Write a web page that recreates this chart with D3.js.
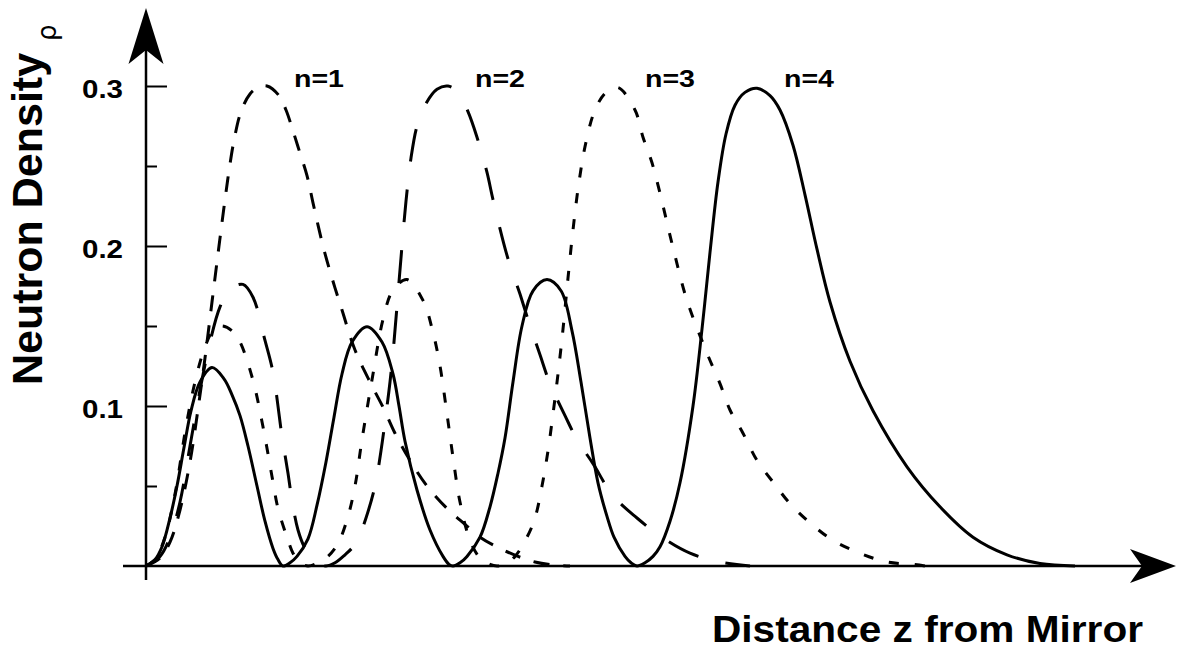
<!DOCTYPE html>
<html>
<head>
<meta charset="utf-8">
<script src="https://cdn.jsdelivr.net/npm/d3@7"></script>
<style>
    body { margin: 0; background: #fff; }
    svg { display: block; }
</style>
</head>
<body>
<svg id="chart" width="1188" height="648"></svg>
<script>
// Values (z in arbitrary units, rho = neutron density)
const zN1 = [0, .14, .24, .34, .44, .52, .59, .66, .73, .79, .83, .88, .95, 1.04, 1.12, 1.21, 1.33, 1.40, 1.46, 1.52, 1.61, 1.67, 1.77, 1.86, 1.96, 2.09, 2.24, 2.38, 2.49, 2.64, 2.81, 3.01, 3.19, 3.34, 3.54, 3.72, 3.89, 4.09, 4.24];
const rhoN1 = [0, .005, .015, .035, .065, .098, .13, .165, .2, .229, .247, .266, .284, .295, .299, .3, .294, .285, .274, .262, .244, .227, .2, .18, .16, .135, .115, .098, .083, .066, .05, .036, .026, .018, .011, .006, .0025, .0005, 0];

const zN2 = [0, .14, .24, .34, .44, .54, .64, .74, .84, .97, 1.07, 1.19, 1.27, 1.36, 1.42, 1.46, 1.52, 1.59, 1.67, 1.74, 1.80, 1.89, 1.99, 2.07, 2.14, 2.20, 2.29, 2.35, 2.40, 2.44, 2.48, 2.52, 2.56, 2.60, 2.65, 2.71, 2.79, 2.91, 3.02, 3.12, 3.22, 3.31, 3.41, 3.47, 3.62, 3.74, 3.82, 3.94, 4.04, 4.19, 4.31, 4.47, 4.67, 4.91, 5.17, 5.44, 5.74, 6.04];
const rhoN2 = [0, .006, .018, .04, .075, .11, .14, .162, .173, .176, .168, .141, .121, .081, .058, .041, .0225, .011, .004, .001, 0, .002, .007, .012, .02, .03, .05, .072, .095, .115, .14, .17, .2, .228, .255, .275, .288, .298, .3, .296, .284, .268, .246, .229, .192, .17, .154, .132, .114, .094, .079, .064, .044, .03, .0175, .008, .0025, 0];

const zN3 = [0, .09, .19, .29, .40, .49, .59, .68, .76, .86, .94, 1.07, 1.17, 1.26, 1.32, 1.41, 1.47, 1.54, 1.62, 1.72, 1.82, 1.92, 2.02, 2.09, 2.16, 2.27, 2.37, 2.47, 2.61, 2.77, 2.87, 2.94, 3.01, 3.07, 3.14, 3.24, 3.34, 3.44, 3.51, 3.59, 3.69, 3.81, 3.89, 3.96, 4.02, 4.07, 4.12, 4.17, 4.22, 4.27, 4.33, 4.40, 4.49, 4.60, 4.72, 4.89, 4.97, 5.06, 5.14, 5.27, 5.41, 5.61, 5.74, 5.84, 5.97, 6.11, 6.27, 6.44, 6.64, 6.87, 7.14, 7.41, 7.67, 7.79];
const rhoN3 = [0, .004, .018, .045, .087, .115, .137, .148, .15, .147, .14, .116, .087, .056, .036, .018, .008, .002, 0, .002, .006, .014, .031, .05, .079, .12, .154, .1725, .179, .166, .146, .125, .095, .068, .04, .016, .005, .001, 0, .001, .006, .018, .03, .05, .072, .095, .12, .148, .18, .21, .24, .265, .285, .296, .299, .285, .268, .252, .233, .199, .166, .133, .114, .0975, .083, .066, .0525, .039, .027, .016, .008, .0025, .001, 0];

const zN4 = [0, .09, .16, .24, .31, .38, .45, .54, .66, .78, .86, .94, 1.02, 1.11, 1.19, 1.27, 1.32, 1.37,
    1.44, 1.51, 1.62, 1.71, 1.80, 1.88, 1.96, 2.06, 2.21, 2.36, 2.47, 2.53, 2.59, 2.71, 2.84, 2.97, 3.03, 3.07,
    3.14, 3.21, 3.34, 3.44, 3.52, 3.59, 3.67, 3.76, 3.87, 4.01, 4.15, 4.26, 4.35, 4.44, 4.52, 4.61, 4.68, 4.79, 4.85, 4.91,
    4.99, 5.07, 5.14, 5.24, 5.34, 5.47, 5.56, 5.64, 5.72, 5.80, 5.89, 5.99, 6.11, 6.24, 6.34, 6.47, 6.59, 6.71, 6.84, 7.04, 7.27, 7.61, 7.94, 8.27, 8.61, 8.94, 9.29];
const rhoN4 = [0, .004, .012, .03, .05, .074, .097, .115, .124, .117, .107, .094, .075, .05, .028, .011, .004, 0,
    .002, .006, .017, .038, .065, .093, .12, .14, .1496, .14, .12, .1, .078, .0475, .0225, .006, .001, 0,
    .002, .006, .018, .037, .058, .08, .115, .15, .172, .179, .172, .147, .115, .08, .052, .031, .018, .006, .002, 0,
    .002, .006, .012, .028, .052, .1, .148, .196, .24, .27, .288, .296, .2986, .294, .285, .263, .232, .198, .165, .128, .097, .062, .037, .018, .007, .0015, 0];

const stateNames = ["n=1", "n=2", "n=3", "n=4"];
const yMajorTicks = [0.1, 0.2, 0.3];
const yMinorTicks = [0.05, 0.15, 0.25];
const xTitle = "Distance z from Mirror";
const yTitle = "Neutron Density";

// line styles for each state (n=4 is solid)
const dashes = ["16,14", "33,28", "10,16", null];

const series = [
    { name: stateNames[0], z: zN1, rho: rhoN1 },
    { name: stateNames[1], z: zN2, rho: rhoN2 },
    { name: stateNames[2], z: zN3, rho: rhoN3 },
    { name: stateNames[3], z: zN4, rho: rhoN4 },
].map(s => ({ ...s, points: s.z.map((z, i) => [z, s.rho[i]]) }));

const svg = d3.select("#chart");
const font = "'Liberation Sans', Arial, Helvetica, sans-serif";

svg.append("rect").attr("width", 1188).attr("height", 648).attr("fill", "#fff");

// Scales
const xScale = d3.scaleLinear().domain([0, 10.3]).range([146, 1176]);
const yScale = d3.scaleLinear().domain([0, 0.35]).range([566, 6]);

const x0 = xScale(0);
const y0 = yScale(0);

// Curves
const line = d3.line()
    .x(d => xScale(d[0]))
    .y(d => yScale(d[1]))
    .curve(d3.curveCatmullRom.alpha(0.5));

svg.append("g")
    .selectAll("path")
    .data(series)
    .join("path")
    .attr("d", d => line(d.points))
    .attr("fill", "none")
    .attr("stroke", "#000")
    .attr("stroke-width", 3)
    .attr("stroke-linecap", "butt")
    .attr("stroke-dasharray", (d, i) => dashes[i]);

// State labels, placed just right of each curve's highest point
svg.append("g")
    .selectAll("text")
    .data(series)
    .join("text")
    .attr("x", d => {
        const top = d.points[d3.maxIndex(d.points, p => p[1])];
        return xScale(top[0]) + 27;
    })
    .attr("y", yScale(0.3) + 1)
    .attr("font-family", font)
    .attr("font-weight", "bold")
    .attr("font-size", 24)
    .attr("textLength", 50)
    .attr("lengthAdjust", "spacingAndGlyphs")
    .text(d => d.name);

// Y axis ticks (ticks point into the plot, labels on the left)
const yAxis = d3.axisLeft(yScale)
    .tickValues(yMajorTicks)
    .tickSizeInner(-21)
    .tickSizeOuter(0)
    .tickPadding(23)
    .tickFormat(d3.format(".1f"));

const yAxisG = svg.append("g")
    .attr("transform", `translate(${x0},0)`)
    .call(yAxis);
yAxisG.select(".domain").remove();
yAxisG.selectAll("line").attr("stroke", "#000").attr("stroke-width", 2);
yAxisG.selectAll("text")
    .attr("fill", "#000")
    .attr("dy", "0.45em")
    .attr("font-family", font)
    .attr("font-weight", "bold")
    .attr("font-size", 25)
    .attr("textLength", 41)
    .attr("lengthAdjust", "spacingAndGlyphs");

const yMinor = d3.axisLeft(yScale)
    .tickValues(yMinorTicks)
    .tickSizeInner(-11)
    .tickSizeOuter(0)
    .tickFormat("");
const yMinorG = svg.append("g")
    .attr("transform", `translate(${x0},0)`)
    .call(yMinor);
yMinorG.select(".domain").remove();
yMinorG.selectAll("line").attr("stroke", "#000").attr("stroke-width", 2);

// Axis lines with arrow heads
const yTop = yScale.range()[1] + 2;
const xEnd = xScale.range()[1];

svg.append("line")
    .attr("x1", x0).attr("x2", x0)
    .attr("y1", y0 + 14).attr("y2", yTop + 40)
    .attr("stroke", "#000").attr("stroke-width", 2.5);

svg.append("line")
    .attr("x1", x0 - 23).attr("x2", xEnd - 30)
    .attr("y1", y0).attr("y2", y0)
    .attr("stroke", "#000").attr("stroke-width", 2.5);

svg.append("path")
    .attr("d", `M${x0},${yTop} L${x0 + 17.5},${yTop + 56} L${x0},${yTop + 42} L${x0 - 17.5},${yTop + 56} Z`)
    .attr("fill", "#000");

svg.append("path")
    .attr("d", `M${xEnd},${y0} L${xEnd - 46},${y0 - 17} L${xEnd - 34},${y0} L${xEnd - 46},${y0 + 17} Z`)
    .attr("fill", "#000");

// Axis titles
svg.append("text")
    .attr("x", 712)
    .attr("y", 642)
    .attr("font-family", font)
    .attr("font-weight", "bold")
    .attr("font-size", 36)
    .attr("textLength", 431)
    .attr("lengthAdjust", "spacingAndGlyphs")
    .text(xTitle);

const yTitleText = svg.append("text")
    .attr("transform", "translate(42,385) rotate(-90)")
    .attr("font-family", font)
    .attr("font-size", 43);
yTitleText.append("tspan")
    .attr("font-weight", "bold")
    .text(yTitle + " ");
yTitleText.append("tspan")
    .attr("font-family", "'DejaVu Sans', sans-serif")
    .attr("font-size", 26)
    .attr("dy", 14)
    .text("ρ");
</script>
</body>
</html>
